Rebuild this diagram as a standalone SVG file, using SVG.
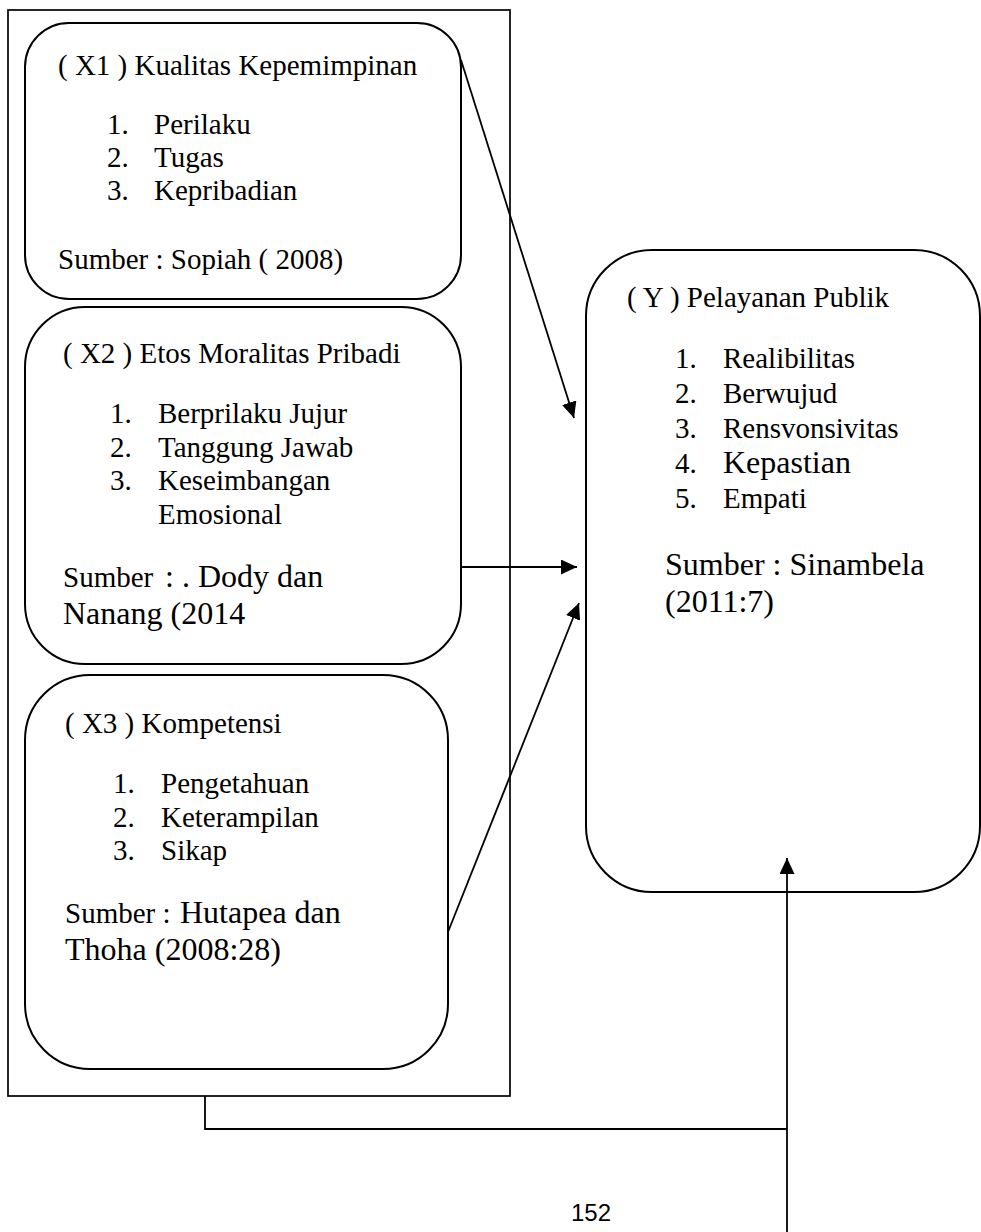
<svg xmlns="http://www.w3.org/2000/svg" width="981" height="1232" viewBox="0 0 981 1232">
<style>
.box{fill:none;stroke:#000;stroke-width:2}
.frame{fill:none;stroke:#000;stroke-width:1.7}
.con{fill:none;stroke:#000;stroke-width:1.8}
text{font-family:"Liberation Serif","Times New Roman",serif;font-size:29px;fill:#000}
.big{font-size:32px}
.pg{font-family:"Liberation Sans",Arial,sans-serif;font-size:24px}
</style>
<defs>
<marker id="ah" markerUnits="userSpaceOnUse" markerWidth="16" markerHeight="15" refX="16" refY="7.5" orient="auto">
<path d="M0,0 L16,7.5 L0,15 z" fill="#000"/>
</marker>
</defs>
<rect id="frame" class="frame" x="8" y="10" width="502" height="1086"/>
<g id="x1">
<rect class="box" x="25" y="23" width="436" height="276" rx="44" ry="44"/>
<text x="58" y="75">( X1 ) Kualitas Kepemimpinan</text>
<text x="107" y="134">1.</text><text x="154" y="134">Perilaku</text>
<text x="107" y="167">2.</text><text x="154" y="167">Tugas</text>
<text x="107" y="200">3.</text><text x="154" y="200">Kepribadian</text>
<text x="58" y="269">Sumber : Sopiah ( 2008)</text>
</g>
<g id="x2">
<rect class="box" x="25" y="307" width="436" height="357" rx="60" ry="60"/>
<text x="63" y="363">( X2 ) Etos Moralitas Pribadi</text>
<text x="110" y="423">1.</text><text x="158" y="423">Berprilaku Jujur</text>
<text x="110" y="457">2.</text><text x="158" y="457">Tanggung Jawab</text>
<text x="110" y="490">3.</text><text x="158" y="490">Keseimbangan</text>
<text x="158" y="524">Emosional</text>
<text x="63" y="587">Sumber <tspan class="big" x="165">: . Dody dan</tspan></text>
<text class="big" x="63" y="624">Nanang (2014</text>
</g>
<g id="x3">
<rect class="box" x="25" y="675" width="423" height="394" rx="65" ry="65"/>
<text x="65" y="733">( X3 ) Kompetensi</text>
<text x="113" y="793">1.</text><text x="161" y="793">Pengetahuan</text>
<text x="113" y="827">2.</text><text x="161" y="827">Keterampilan</text>
<text x="113" y="860">3.</text><text x="161" y="860">Sikap</text>
<text x="65" y="923">Sumber : <tspan class="big" x="180">Hutapea dan</tspan></text>
<text class="big" x="65" y="960">Thoha (2008:28)</text>
</g>
<g id="y">
<rect class="box" x="586" y="250" width="394" height="642" rx="66" ry="66"/>
<text x="627" y="307">( Y ) Pelayanan Publik</text>
<text x="675" y="368">1.</text><text x="723" y="368">Realibilitas</text>
<text x="675" y="403">2.</text><text x="723" y="403">Berwujud</text>
<text x="675" y="438">3.</text><text x="723" y="438">Rensvonsivitas</text>
<text x="675" y="473">4.</text><text class="big" x="723" y="473">Kepastian</text>
<text x="675" y="508">5.</text><text x="723" y="508">Empati</text>
<text class="big" x="665" y="575">Sumber : Sinambela</text>
<text class="big" x="665" y="612">(2011:7)</text>
</g>
<g id="connectors">
<line class="con" x1="461" y1="60" x2="574" y2="418" marker-end="url(#ah)"/>
<line class="con" x1="461" y1="567" x2="577" y2="567" marker-end="url(#ah)"/>
<line class="con" x1="448" y1="932" x2="579" y2="603" marker-end="url(#ah)"/>
<polyline class="con" points="205,1096 205,1129 787,1129"/>
<line class="con" x1="787" y1="1232" x2="787" y2="858" marker-end="url(#ah)"/>
</g>
<text class="pg" x="571" y="1221">152</text>
</svg>
